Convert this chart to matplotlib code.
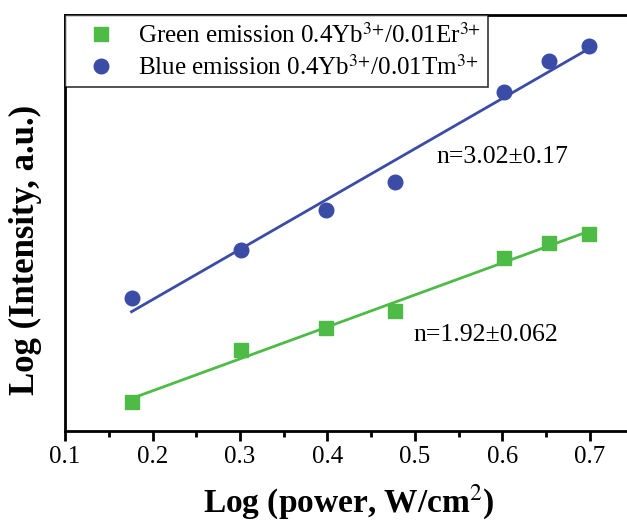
import numpy as np
import matplotlib.pyplot as plt
from matplotlib.ticker import MultipleLocator, NullLocator

# Data (y in arbitrary log units)
log_power = [0.176, 0.301, 0.398, 0.477, 0.602, 0.653, 0.699]
green_log_int = [3.176, 3.492, 3.626, 3.729, 4.050, 4.142, 4.197]
blue_log_int = [3.808, 4.100, 4.343, 4.513, 5.060, 5.248, 5.339]

green_label = r"Green emission 0.4Yb$^{3{+}}$/0.01Er$^{3{+}}$"
blue_label = r"Blue emission 0.4Yb$^{3{+}}$/0.01Tm$^{3{+}}$"
green_note = "n=1.92±0.062"
blue_note = "n=3.02±0.17"

green_c = "#4dbb46"
blue_c = "#3b4ca6"

plt.rcParams['font.family'] = ['Liberation Serif', 'DejaVu Serif']
plt.rcParams['mathtext.fontset'] = 'stix'

fig = plt.figure(figsize=(6.27, 5.23), dpi=100)
ax = fig.add_axes([0.1037, 0.1759, 0.907, 0.7954])

x = np.array(log_power)
# linear fits
xf = np.array([x.min(), x.max()])
for yv, c in [(green_log_int, green_c), (blue_log_int, blue_c)]:
    p = np.polyfit(x, yv, 1)
    ax.plot(xf, np.polyval(p, xf), color=c, lw=2.0, zorder=2)

ax.plot(x, green_log_int, 's', color=green_c, ms=9.5, ls='none', label=green_label, zorder=3)
ax.plot(x, blue_log_int, 'o', color=blue_c, ms=10.5, ls='none', label=blue_label, zorder=3)

ax.text(0.525, 4.665, blue_note, fontsize=18.5, va='center', ha='left')
ax.text(0.498, 3.583, green_note, fontsize=18.5, va='center', ha='left')

ax.set_xlim(0.1, 0.75)
ax.set_ylim(3.0, 5.527)
ax.xaxis.set_major_locator(MultipleLocator(0.1))
ax.xaxis.set_minor_locator(MultipleLocator(0.05))
ax.yaxis.set_major_locator(NullLocator())
ax.tick_params(axis='x', which='major', direction='out', length=7, width=2, labelsize=18, pad=4)
ax.tick_params(axis='x', which='minor', direction='out', length=4, width=2)
ax.set_xticklabels([f"{v:.1f}" for v in ax.get_xticks()])
for s in ax.spines.values():
    s.set_linewidth(2)

ax.set_xlabel(r"Log (power, W/cm$^{2}$)", fontsize=24, fontweight='bold')
ax.xaxis.set_label_coords(0.499, -0.125)
ax.set_ylabel("Log (Intensity, a.u.)", fontsize=25, fontweight='bold')
ax.yaxis.set_label_coords(-0.04, 0.435)

leg = ax.legend(loc='upper left', bbox_to_anchor=(0.0, 1.0), borderaxespad=0.0,
                fontsize=18, frameon=True, fancybox=False, edgecolor='black',
                handletextpad=0.3, labelspacing=0.3, borderpad=0.3, handlelength=2.3)
leg.get_frame().set_linewidth(1.2)

fig.savefig("out.png", dpi=100)
